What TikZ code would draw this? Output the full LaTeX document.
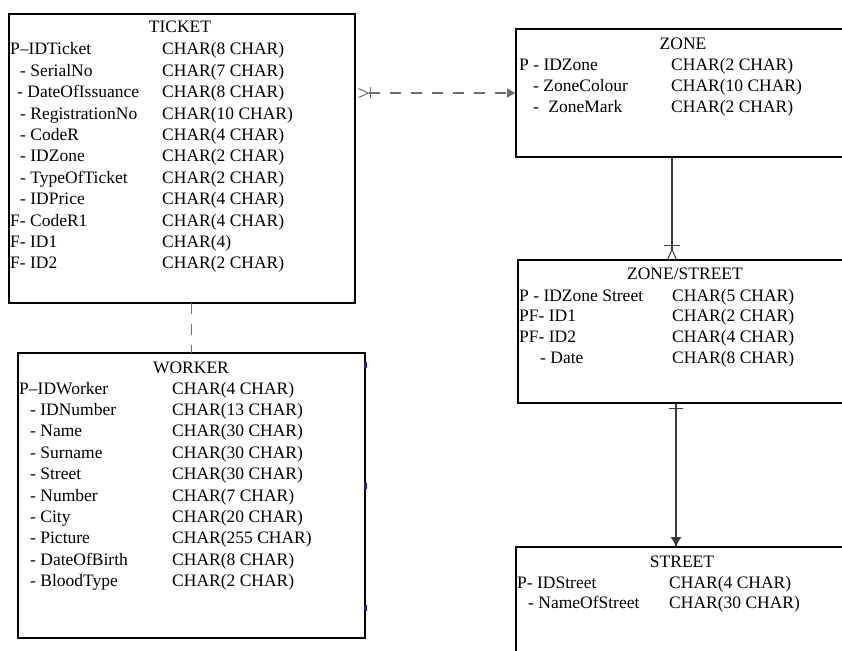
\documentclass[tikz,border=0pt]{standalone}
\usepackage{fontspec}
\setmainfont{Liberation Serif}
\usetikzlibrary{arrows.meta, positioning, calc}
\definecolor{LinkGrey}{HTML}{3A3A3A}
\definecolor{DashGrey}{HTML}{6E6E6E}
\definecolor{HandleBlue}{HTML}{1C1CA0}

\tikzset{
  entity/.style={draw, line width=2pt, anchor=north west, inner sep=0pt, outer sep=0pt},
  etitle/.style={anchor=base, inner sep=0pt, font=\fontsize{17.5}{21}\selectfont},
  attrs/.style={anchor=base west, inner sep=0pt, font=\fontsize{17.5}{#1}\selectfont},
  attrs/.default=21.4,
  rel/.style={line width=1.1pt, draw=LinkGrey},
  optrel/.style={line width=1.1pt, draw=DashGrey, dash pattern=on 11pt off 10pt},
  crow/.tip={Straight Barb[reversed, length=10pt, width=9pt, line width=1pt]},
}

\begin{document}
\begin{tikzpicture}[x=1pt, y=-1pt]
\fill[white] (0,0) rectangle (842,650);
\useasboundingbox (0,0) rectangle (842,650);

% entity boxes
\node[entity, minimum width=346pt, minimum height=289pt] (ticket) at (9,14) {};
\node[entity, minimum width=347pt, minimum height=285pt] (worker) at (18,353) {};
\node[entity, minimum width=340pt, minimum height=128pt] (zone) at (516,29) {};
\node[entity, minimum width=340pt, minimum height=143pt] (zs) at (518,260) {};
\node[entity, minimum width=340pt, minimum height=120pt] (street) at (516,547) {};

% TICKET
\node[etitle] (ticketT) at (180,33) {TICKET};
\node[attrs] (ticketA) at (10,55) {\begin{tabular}[t]{@{}p{152pt}@{}l@{}}
P–IDTicket & CHAR(8 CHAR)\\
\hspace*{10pt}- SerialNo & CHAR(7 CHAR)\\
\hspace*{7pt}- DateOfIssuance & CHAR(8 CHAR)\\
\hspace*{10pt}- RegistrationNo & CHAR(10 CHAR)\\
\hspace*{10pt}- CodeR & CHAR(4 CHAR)\\
\hspace*{10pt}- IDZone & CHAR(2 CHAR)\\
\hspace*{10pt}- TypeOfTicket & CHAR(2 CHAR)\\
\hspace*{10pt}- IDPrice & CHAR(4 CHAR)\\
F- CodeR1 & CHAR(4 CHAR)\\
F- ID1 & CHAR(4)\\
F- ID2 & CHAR(2 CHAR)
\end{tabular}};

% WORKER
\node[etitle] (workerT) at (191,373) {WORKER};
\node[attrs] (workerA) at (19,394) {\begin{tabular}[t]{@{}p{153pt}@{}l@{}}
P–IDWorker & CHAR(4 CHAR)\\
\hspace*{11pt}- IDNumber & CHAR(13 CHAR)\\
\hspace*{11pt}- Name & CHAR(30 CHAR)\\
\hspace*{11pt}- Surname & CHAR(30 CHAR)\\
\hspace*{11pt}- Street & CHAR(30 CHAR)\\
\hspace*{11pt}- Number & CHAR(7 CHAR)\\
\hspace*{11pt}- City & CHAR(20 CHAR)\\
\hspace*{11pt}- Picture & CHAR(255 CHAR)\\
\hspace*{11pt}- DateOfBirth & CHAR(8 CHAR)\\
\hspace*{11pt}- BloodType & CHAR(2 CHAR)
\end{tabular}};

% ZONE
\node[etitle] (zoneT) at (683,50) {ZONE};
\node[attrs=20.7] (zoneA) at (519,71) {\begin{tabular}[t]{@{}p{152pt}@{}l@{}}
P - IDZone & CHAR(2 CHAR)\\
\hspace*{14pt}- ZoneColour & CHAR(10 CHAR)\\
\hspace*{14pt}- \hspace*{5pt}ZoneMark & CHAR(2 CHAR)
\end{tabular}};

% ZONE/STREET
\node[etitle] (zsT) at (685,279) {ZONE/STREET};
\node[attrs=20.7] (zsA) at (519,301) {\begin{tabular}[t]{@{}p{153pt}@{}l@{}}
P - IDZone Street & CHAR(5 CHAR)\\
PF- ID1 & CHAR(2 CHAR)\\
PF- ID2 & CHAR(4 CHAR)\\
\hspace*{21pt}- Date & CHAR(8 CHAR)
\end{tabular}};

% STREET
\node[etitle] (streetT) at (682,567) {STREET};
\node[attrs=20.3] (streetA) at (517,588) {\begin{tabular}[t]{@{}p{152pt}@{}l@{}}
P- IDStreet & CHAR(4 CHAR)\\
\hspace*{11pt}- NameOfStreet & CHAR(30 CHAR)
\end{tabular}};

% relations
\draw[optrel, {crow[sep=3pt] Bar[width=11pt]}-{Latex[length=9pt, width=10pt]}]
  (ticket.east |- zone.west) -- (zone.west);
\draw[optrel] (worker.north |- ticket.south) -- (worker.north);
\draw[rel, -{Bar[width=16pt, sep=2pt] crow}]
  ([xshift=156pt]zone.south west) -- ([xshift=154pt]zs.north west);
\draw[rel] ([xshift=158pt]zs.south west) -- ([xshift=160pt]street.north west);
\draw[rel, shorten <=5pt, {Bar[width=14pt]}-{Latex[length=10pt, width=11pt]}]
  ([xshift=158pt]zs.south west) -- ([xshift=160pt]street.north west);

% selection handles
\foreach \hy in {365,486,608}
  \fill[HandleBlue] (363.5,\hy-3) rectangle (366.5,\hy+3);
\end{tikzpicture}
\end{document}
